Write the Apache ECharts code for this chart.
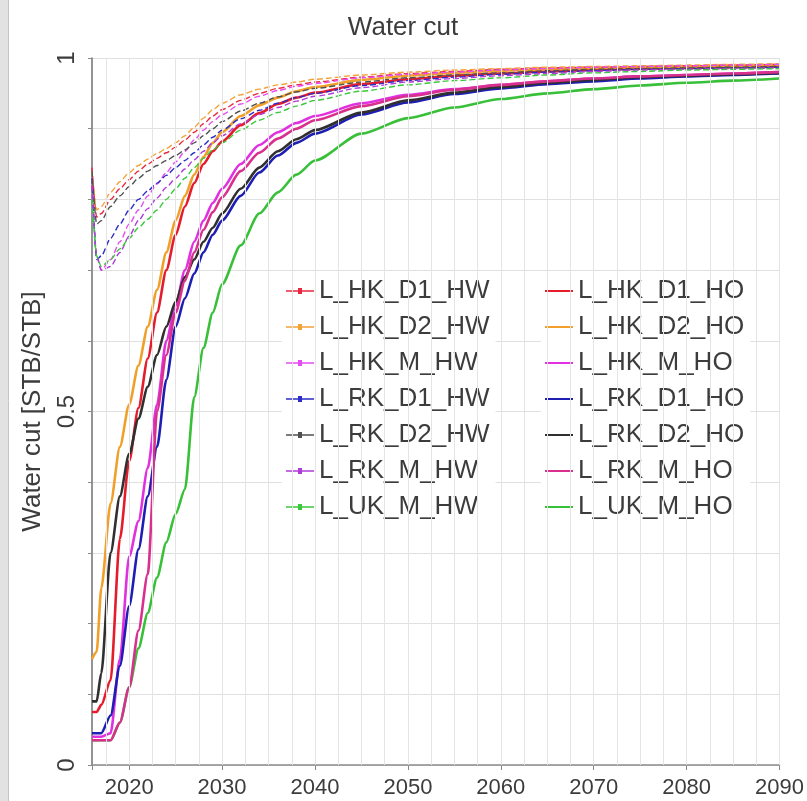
<!DOCTYPE html>
<html>
<head>
<meta charset="utf-8">
<script src="https://cdn.jsdelivr.net/npm/echarts@6/dist/echarts.min.js"></script>
<style>
  html, body { margin: 0; padding: 0; background: #fff; }
  #chart { width: 807px; height: 801px; }
</style>
</head>
<body>
<div id="chart"></div>
<script>
// Simulation report years (shared by every case)
const years = [2016, 2016.5, 2017, 2018, 2019, 2020, 2021, 2022, 2023, 2024, 2025, 2026, 2027, 2028, 2029, 2030,
  2032, 2034, 2036, 2038, 2040, 2045, 2050, 2055, 2060, 2065, 2070, 2075, 2080, 2085, 2090];

// Water cut [STB/STB], HW cases
const L_HK_D1_HW = [0.845, 0.775, 0.78, 0.80, 0.815, 0.828, 0.84, 0.85, 0.858, 0.866, 0.874, 0.884, 0.895, 0.907, 0.918, 0.927,
  0.94, 0.95, 0.957, 0.962, 0.966, 0.973, 0.978, 0.981, 0.984, 0.986, 0.987, 0.988, 0.989, 0.99, 0.991];
const L_HK_D2_HW = [0.84, 0.785, 0.79, 0.81, 0.825, 0.838, 0.848, 0.857, 0.865, 0.872, 0.88, 0.89, 0.902, 0.915, 0.927, 0.936,
  0.948, 0.956, 0.962, 0.966, 0.97, 0.976, 0.98, 0.983, 0.985, 0.987, 0.988, 0.989, 0.99, 0.991, 0.992];
const L_HK_M_HW = [0.82, 0.72, 0.70, 0.715, 0.74, 0.765, 0.785, 0.805, 0.822, 0.838, 0.853, 0.868, 0.884, 0.898, 0.91, 0.92,
  0.935, 0.946, 0.954, 0.96, 0.964, 0.972, 0.977, 0.98, 0.983, 0.985, 0.987, 0.988, 0.989, 0.99, 0.991];
const L_RK_D1_HW = [0.83, 0.715, 0.72, 0.745, 0.765, 0.785, 0.80, 0.812, 0.823, 0.834, 0.845, 0.855, 0.866, 0.877, 0.888, 0.898,
  0.914, 0.926, 0.936, 0.944, 0.95, 0.961, 0.968, 0.973, 0.977, 0.98, 0.982, 0.984, 0.985, 0.986, 0.987];
const L_RK_D2_HW = [0.84, 0.765, 0.77, 0.79, 0.805, 0.818, 0.83, 0.84, 0.848, 0.855, 0.862, 0.87, 0.88, 0.89, 0.90, 0.91,
  0.925, 0.936, 0.945, 0.952, 0.957, 0.966, 0.972, 0.976, 0.979, 0.982, 0.984, 0.985, 0.986, 0.987, 0.988];
const L_RK_M_HW = [0.82, 0.72, 0.70, 0.705, 0.725, 0.748, 0.77, 0.787, 0.802, 0.817, 0.83, 0.843, 0.856, 0.868, 0.88, 0.89,
  0.907, 0.92, 0.93, 0.939, 0.946, 0.958, 0.966, 0.971, 0.975, 0.978, 0.981, 0.983, 0.984, 0.985, 0.986];
const L_UK_M_HW = [0.80, 0.72, 0.705, 0.715, 0.73, 0.745, 0.76, 0.772, 0.785, 0.80, 0.815, 0.83, 0.845, 0.858, 0.87, 0.88,
  0.898, 0.912, 0.923, 0.932, 0.94, 0.953, 0.962, 0.968, 0.972, 0.976, 0.979, 0.981, 0.983, 0.984, 0.985];

// Water cut [STB/STB], HO cases
const L_HK_D1_HO = [0.075, 0.075, 0.085, 0.12, 0.32, 0.43, 0.505, 0.575, 0.64, 0.70, 0.75, 0.79, 0.823, 0.85, 0.868, 0.882,
  0.905, 0.922, 0.935, 0.944, 0.951, 0.963, 0.97, 0.975, 0.978, 0.981, 0.983, 0.985, 0.986, 0.987, 0.988];
const L_HK_D2_HO = [0.15, 0.16, 0.25, 0.37, 0.45, 0.51, 0.565, 0.62, 0.672, 0.725, 0.77, 0.805, 0.835, 0.86, 0.88, 0.895,
  0.918, 0.933, 0.944, 0.953, 0.959, 0.969, 0.975, 0.979, 0.982, 0.984, 0.986, 0.987, 0.988, 0.989, 0.99];
const L_HK_M_HO = [0.04, 0.04, 0.04, 0.045, 0.15, 0.295, 0.345, 0.42, 0.51, 0.60, 0.65, 0.70, 0.74, 0.77, 0.795, 0.815,
  0.85, 0.877, 0.895, 0.908, 0.918, 0.936, 0.948, 0.956, 0.962, 0.967, 0.971, 0.974, 0.976, 0.978, 0.98];
const L_RK_D1_HO = [0.045, 0.045, 0.045, 0.07, 0.14, 0.225, 0.305, 0.38, 0.45, 0.545, 0.62, 0.66, 0.695, 0.725, 0.75, 0.77,
  0.805, 0.838, 0.862, 0.88, 0.893, 0.92, 0.937, 0.949, 0.957, 0.963, 0.967, 0.971, 0.974, 0.976, 0.978];
const L_RK_D2_HO = [0.09, 0.09, 0.13, 0.30, 0.38, 0.44, 0.49, 0.535, 0.58, 0.62, 0.655, 0.69, 0.715, 0.74, 0.76, 0.78,
  0.815, 0.845, 0.868, 0.885, 0.898, 0.923, 0.94, 0.951, 0.959, 0.965, 0.969, 0.973, 0.975, 0.977, 0.979];
const L_RK_M_HO = [0.035, 0.035, 0.035, 0.035, 0.06, 0.11, 0.19, 0.27, 0.50, 0.58, 0.64, 0.685, 0.725, 0.757, 0.782, 0.803,
  0.84, 0.866, 0.886, 0.9, 0.912, 0.932, 0.946, 0.955, 0.962, 0.967, 0.971, 0.974, 0.976, 0.978, 0.98];
const L_UK_M_HO = [0.035, 0.035, 0.035, 0.035, 0.06, 0.11, 0.165, 0.215, 0.265, 0.315, 0.355, 0.39, 0.52, 0.59, 0.64, 0.68,
  0.735, 0.78, 0.81, 0.835, 0.855, 0.893, 0.915, 0.93, 0.942, 0.95, 0.956, 0.961, 0.965, 0.968, 0.971];

const hwCases = [
  ['L_HK_D1_HW', L_HK_D1_HW, '#e8283c'],
  ['L_HK_D2_HW', L_HK_D2_HW, '#f2a33a'],
  ['L_HK_M_HW',  L_HK_M_HW,  '#e84cf0'],
  ['L_RK_D1_HW', L_RK_D1_HW, '#2c2cc8'],
  ['L_RK_D2_HW', L_RK_D2_HW, '#505050'],
  ['L_RK_M_HW',  L_RK_M_HW,  '#b03cd8'],
  ['L_UK_M_HW',  L_UK_M_HW,  '#3cc83c']
];
const hoCases = [
  ['L_HK_D1_HO', L_HK_D1_HO, '#e41c2c'],
  ['L_HK_D2_HO', L_HK_D2_HO, '#f0a028'],
  ['L_HK_M_HO',  L_HK_M_HO,  '#e030e0'],
  ['L_RK_D1_HO', L_RK_D1_HO, '#1e1eb4'],
  ['L_RK_D2_HO', L_RK_D2_HO, '#303030'],
  ['L_RK_M_HO',  L_RK_M_HO,  '#d8308c'],
  ['L_UK_M_HO',  L_UK_M_HO,  '#38c038']
];
// the UK case is drawn first so the RK_M curve sits on top where they coincide
const hoDrawOrder = [6, 0, 1, 2, 3, 4, 5];

const FONT = '"Liberation Sans", Arial, sans-serif';
const TEXT = '#3c3c3c';
const pairs = arr => years.map((y, i) => [y, arr[i]]);

// vertical grid lines every 2.5 years
const vGrid = [];
for (let y = 2017.5; y <= 2090; y += 2.5) vGrid.push({ xAxis: y });

const series = [{
  type: 'line', data: [], silent: true, z: 1,
  markLine: {
    silent: true, symbol: 'none', label: { show: false },
    lineStyle: { color: '#e4e4e4', width: 1, type: 'solid' },
    animation: false, data: vGrid
  }
}];

hoDrawOrder.forEach(k => {
  const [name, arr, color] = hoCases[k];
  series.push({
    name, type: 'line', data: pairs(arr), z: 3,
    smooth: 0.25, smoothMonotone: 'x',
    symbol: 'none', color,
    lineStyle: { color, width: 2.6 }
  });
});
hwCases.forEach(([name, arr, color]) => series.push({
  name, type: 'line', data: pairs(arr), z: 4,
  smooth: 0.25, smoothMonotone: 'x',
  symbol: 'none', color,
  lineStyle: { color, width: 1.4, type: [6, 3] }
}));

const legendBase = {
  orient: 'vertical', top: 276, itemGap: 10,
  backgroundColor: '#fff', padding: [2, 6, 2, 4],
  textStyle: { fontSize: 26, color: TEXT, fontFamily: FONT, lineHeight: 26 },
  itemStyle: { borderWidth: 0 },
  lineStyle: { width: 0 },
  selectedMode: false
};

const chart = echarts.init(document.getElementById('chart'), null, { renderer: 'canvas' });
chart.setOption({
  animation: false,
  backgroundColor: '#fff',
  textStyle: { fontFamily: FONT },
  title: {
    text: 'Water cut', left: 398, textAlign: 'center', top: 10,
    textStyle: { fontSize: 26, fontWeight: 'normal', color: TEXT, fontFamily: FONT }
  },
  graphic: [
    { type: 'rect', shape: { x: 0, y: 0, width: 8, height: 801 }, style: { fill: '#e2e2e2' }, silent: true },
    { type: 'line', shape: { x1: 8.5, y1: 0, x2: 8.5, y2: 801 }, style: { stroke: '#c4c4c4', lineWidth: 1 }, silent: true }
  ],
  legend: [
    Object.assign({}, legendBase, {
      left: 282, itemWidth: 28, itemHeight: 6,
      icon: 'path://M0,2.3H28V3.7H0Z M12,0H16V6H12Z',
      data: hwCases.map(c => c[0])
    }),
    Object.assign({}, legendBase, {
      left: 541, itemWidth: 28, itemHeight: 2,
      icon: 'path://M0,0H28V2H0Z',
      data: hoCases.map(c => c[0])
    })
  ],
  grid: { left: 92, right: 17, top: 58, bottom: 36, containLabel: false },
  xAxis: {
    type: 'value', min: 2016, max: 2090, splitNumber: 7,
    axisLine: { show: true, lineStyle: { color: '#8a8a8a', width: 1.5 } },
    axisTick: { show: true, length: 5, lineStyle: { color: '#8a8a8a' } },
    axisLabel: {
      fontSize: 22, color: TEXT, margin: 12, fontFamily: FONT,
      formatter: v => (Math.round(v) % 10 === 0 ? String(v) : '')
    },
    splitLine: { show: false }
  },
  yAxis: {
    type: 'value', min: 0, max: 1, interval: 0.1,
    name: 'Water cut [STB/STB]', nameLocation: 'middle', nameGap: 46,
    nameTextStyle: { fontSize: 26, color: TEXT, fontFamily: FONT },
    axisLine: { show: true, lineStyle: { color: '#707070', width: 1.5 } },
    axisTick: { show: true, length: 4, lineStyle: { color: '#8a8a8a' } },
    axisLabel: {
      rotate: 90, fontSize: 24, color: TEXT, margin: 13, fontFamily: FONT,
      formatter: v => {
        const t = Math.round(v * 10);
        return t % 5 === 0 ? String(t / 10) : '';
      }
    },
    splitLine: { show: true, lineStyle: { color: '#e0e0e0', width: 1 } }
  },
  series
});
</script>
</body>
</html>
